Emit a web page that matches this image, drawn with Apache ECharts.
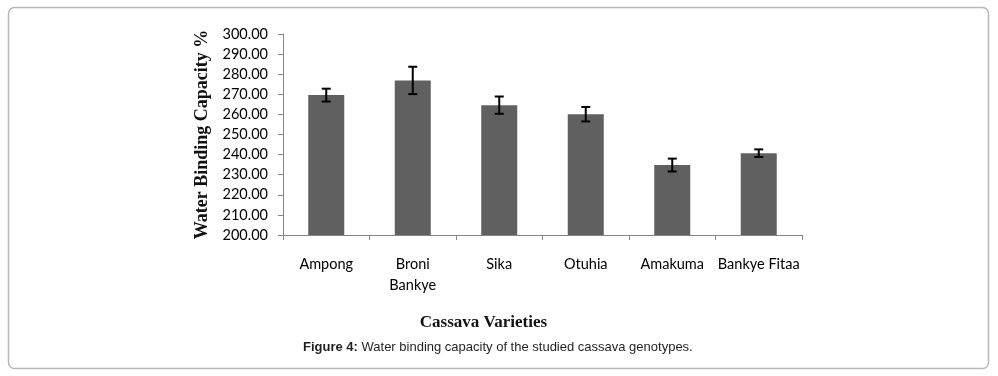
<!DOCTYPE html>
<html>
<head>
<meta charset="utf-8">
<script src="https://cdn.jsdelivr.net/npm/echarts@6/dist/echarts.min.js"></script>
<style>
html,body{margin:0;padding:0;background:#fff;}
#chart{width:998px;height:376px;}
</style>
</head>
<body>
<div id="chart"></div>
<script>
const categories = ['Ampong', 'Broni\nBankye', 'Sika', 'Otuhia', 'Amakuma', 'Bankye Fitaa'];
const values = [269.6, 276.9, 264.6, 260.1, 234.8, 240.7];
const errors = [3.2, 6.8, 4.3, 3.6, 3.2, 1.9];
const yTicks = { min: 200, max: 300, interval: 10 };

const errData = values.map((v, i) => [i, v - errors[i], v + errors[i]]);

const chart = echarts.init(document.getElementById('chart'));
chart.setOption({
  animation: false,
  grid: { left: 283, right: 196, top: 34, bottom: 141 },
  graphic: [
    { type: 'rect', shape: { x: 8.5, y: 7.5, width: 980, height: 361, r: 6 },
      style: { fill: 'none', stroke: '#b8b8b8', lineWidth: 1.5 }, z: 0 },
    { type: 'text', x: 483.5, y: 323,
      style: { text: 'Cassava Varieties', font: 'bold 17px "Liberation Serif", "DejaVu Serif", serif', fill: '#111',
        align: 'center', verticalAlign: 'middle' } },
    { type: 'text', x: 303, y: 341,
      style: { text: '{b|Figure 4:} Water binding capacity of the studied cassava genotypes.',
        font: '13px "Liberation Sans", Arial, sans-serif', fill: '#231f20',
        rich: { b: { fontWeight: 'bold', fontFamily: '"Liberation Sans", Arial, sans-serif', fontSize: 13, fill: '#231f20' } } } }
  ],
  xAxis: {
    type: 'category',
    data: categories,
    axisLine: { lineStyle: { color: '#868686', width: 1 } },
    axisTick: { show: true, length: 5, lineStyle: { color: '#868686' } },
    axisLabel: { color: '#000', fontFamily: 'Lato, "Open Sans", sans-serif', fontSize: 14.5, margin: 19, lineHeight: 21, interval: 0 }
  },
  yAxis: {
    type: 'value',
    min: yTicks.min, max: yTicks.max, interval: yTicks.interval,
    name: 'Water Binding Capacity %',
    nameLocation: 'middle',
    nameGap: 72,
    nameRotate: 90,
    nameTextStyle: { fontFamily: '"Liberation Serif", "DejaVu Serif", serif', fontWeight: 'bold', fontSize: 18, color: '#111' },
    axisLine: { show: true, lineStyle: { color: '#868686', width: 1 } },
    axisTick: { show: true, length: 5, lineStyle: { color: '#868686' } },
    splitLine: { show: false },
    axisLabel: { color: '#000', fontFamily: 'Lato, "Open Sans", sans-serif', fontSize: 14.5, margin: 15,
      formatter: v => v.toFixed(2) }
  },
  series: [
    { type: 'bar', data: values, barWidth: 36, itemStyle: { color: '#606060' } },
    { type: 'custom', data: errData, z: 10,
      renderItem: function (params, api) {
        const x = api.value(0);
        const lo = api.coord([x, api.value(1)]);
        const hi = api.coord([x, api.value(2)]);
        const hw = 4.5;
        const style = { stroke: '#000', lineWidth: 2 };
        return { type: 'group', children: [
          { type: 'line', shape: { x1: lo[0], y1: lo[1], x2: hi[0], y2: hi[1] }, style: style },
          { type: 'line', shape: { x1: hi[0] - hw, y1: hi[1], x2: hi[0] + hw, y2: hi[1] }, style: style },
          { type: 'line', shape: { x1: lo[0] - hw, y1: lo[1], x2: lo[0] + hw, y2: lo[1] }, style: style }
        ] };
      }
    }
  ]
});
</script>
</body>
</html>
